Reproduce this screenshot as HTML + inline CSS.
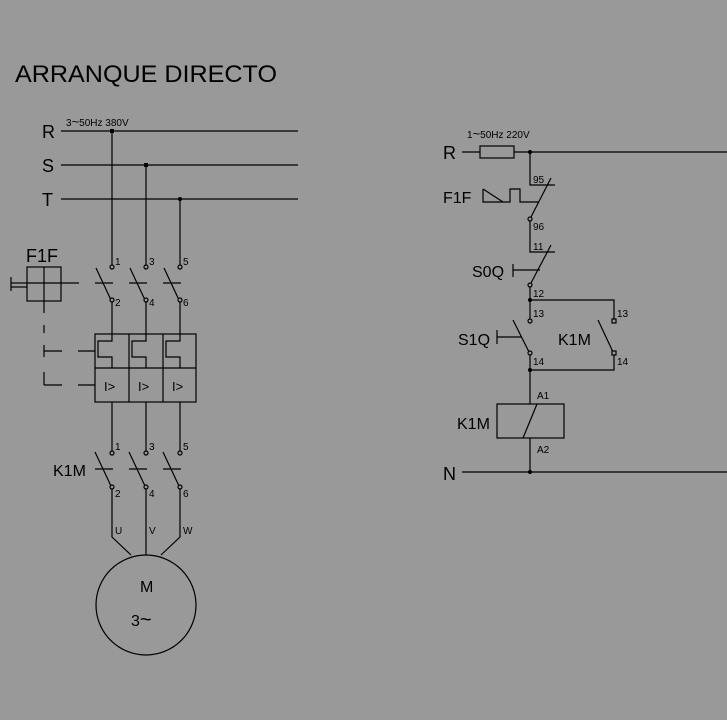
<!DOCTYPE html>
<html><head><meta charset="utf-8"><style>
html,body{margin:0;padding:0;background:#999;}
svg{display:block}
text{font-family:"Liberation Sans",sans-serif;fill:#000}
.t{font-size:18px}
.s{font-size:10px}
</style></head><body>
<svg width="727" height="720" viewBox="0 0 727 720" xmlns="http://www.w3.org/2000/svg">
<rect width="727" height="720" fill="#999"/>
<g stroke="#000" stroke-width="1.2" fill="none">
<line x1="61" y1="131" x2="298" y2="131"/>
<line x1="61" y1="165" x2="298" y2="165"/>
<line x1="61" y1="199" x2="298" y2="199"/>
<line x1="112" y1="131" x2="112" y2="266"/>
<line x1="146" y1="165" x2="146" y2="266"/>
<line x1="180" y1="199" x2="180" y2="266"/>
<g id="q">
<line x1="96" y1="268" x2="111" y2="300"/>
<line x1="95" y1="283" x2="113" y2="283"/>
</g>
<use href="#q" x="34"/><use href="#q" x="68"/>
<line x1="112" y1="302" x2="112" y2="334"/>
<line x1="146" y1="302" x2="146" y2="334"/>
<line x1="180" y1="302" x2="180" y2="334"/>
<rect x="95" y="334" width="101" height="68"/>
<line x1="95" y1="368" x2="196" y2="368"/>
<line x1="129" y1="334" x2="129" y2="402"/>
<line x1="163" y1="334" x2="163" y2="402"/>
<polyline points="112,334 112,341 98,341 98,357 112,357 112,368"/>
<polyline points="146,334 146,341 132,341 132,357 146,357 146,368"/>
<polyline points="180,334 180,341 166,341 166,357 180,357 180,368"/>
<rect x="27" y="267" width="34" height="34"/>
<line x1="44" y1="267" x2="44" y2="313"/>
<line x1="27" y1="283" x2="79" y2="283"/>
<line x1="11" y1="283" x2="27" y2="283"/>
<line x1="11" y1="287" x2="27" y2="287"/>
<line x1="11" y1="277" x2="11" y2="291"/>
<line x1="44" y1="325" x2="44" y2="333"/>
<line x1="44" y1="345" x2="44" y2="357"/>
<line x1="44" y1="351" x2="62" y2="351"/>
<line x1="44" y1="372" x2="44" y2="385"/>
<line x1="44" y1="385" x2="62" y2="385"/>
<line x1="78" y1="351" x2="95" y2="351"/>
<line x1="78" y1="385" x2="95" y2="385"/>
<line x1="112" y1="402" x2="112" y2="451"/>
<line x1="146" y1="402" x2="146" y2="451"/>
<line x1="180" y1="402" x2="180" y2="451"/>
<g id="k">
<line x1="95" y1="452" x2="111" y2="486"/>
<line x1="95" y1="469" x2="113" y2="469"/>
</g>
<use href="#k" x="34"/><use href="#k" x="68"/>
<polyline points="112,489 112,537 131,555"/>
<line x1="146" y1="489" x2="146" y2="555"/>
<polyline points="180,489 180,537 161,555"/>
<circle cx="146" cy="605" r="50"/>
<g fill="#999">
<circle cx="112" cy="267" r="2"/><circle cx="146" cy="267" r="2"/><circle cx="180" cy="267" r="2"/>
<circle cx="112" cy="300" r="2"/><circle cx="146" cy="300" r="2"/><circle cx="180" cy="300" r="2"/>
<circle cx="112" cy="453" r="2"/><circle cx="146" cy="453" r="2"/><circle cx="180" cy="453" r="2"/>
<circle cx="112" cy="487" r="2"/><circle cx="146" cy="487" r="2"/><circle cx="180" cy="487" r="2"/>
</g>
<line x1="462" y1="152" x2="480" y2="152"/>
<rect x="480" y="146" width="34" height="12"/>
<line x1="514" y1="152" x2="727" y2="152"/>
<polyline points="530,152 530,185 555,185"/>
<line x1="551" y1="178" x2="531" y2="217"/>
<polyline points="483,189 483,202 510,202 510,189 520,189 520,202 539,202"/>
<line x1="483" y1="189" x2="503" y2="202"/>
<polyline points="530,221 530,252 555,252"/>
<line x1="551" y1="245" x2="531" y2="283"/>
<line x1="513" y1="264" x2="513" y2="277"/>
<line x1="513" y1="270" x2="540" y2="270"/>
<line x1="530" y1="287" x2="530" y2="319"/>
<polyline points="530,300 614,300 614,319"/>
<line x1="513" y1="320" x2="529" y2="352"/>
<line x1="497" y1="330" x2="497" y2="344"/>
<line x1="497" y1="337" x2="522" y2="337"/>
<line x1="598" y1="320" x2="613" y2="352"/>
<polyline points="530,355 530,404"/>
<polyline points="614,355 614,370 530,370"/>
<rect x="497" y="404" width="67" height="34"/>
<line x1="537" y1="404" x2="523" y2="438"/>
<line x1="530" y1="438" x2="530" y2="472"/>
<line x1="462" y1="472" x2="727" y2="472"/>
<g fill="#999">
<circle cx="530" cy="219" r="2"/><circle cx="530" cy="285" r="2"/>
<circle cx="530" cy="321" r="2"/><circle cx="530" cy="353" r="2"/>
<rect x="612" y="319" width="4" height="4"/><rect x="612" y="351" width="4" height="4"/>
</g>
</g>
<g fill="#000">
<rect x="110" y="129" width="4" height="4"/>
<rect x="144" y="163" width="4" height="4"/>
<circle cx="180" cy="199" r="2"/>
<circle cx="530" cy="152" r="2"/>
<circle cx="530" cy="300" r="2"/>
<circle cx="530" cy="370" r="2"/>
<circle cx="530" cy="472" r="2"/>
</g>
<text x="15" y="82" style="font-size:24px" textLength="262" lengthAdjust="spacingAndGlyphs">ARRANQUE  DIRECTO</text>
<text x="66" y="126" class="s">3<tspan style="font-size:13px">~</tspan>50Hz 380V</text>
<text x="42" y="138" class="t">R</text>
<text x="42" y="172" class="t">S</text>
<text x="42" y="206" class="t">T</text>
<text x="26" y="262" class="t">F1F</text>
<g class="s">
<text x="115" y="265">1</text><text x="149" y="265">3</text><text x="183" y="265">5</text>
<text x="115" y="306">2</text><text x="149" y="306">4</text><text x="183" y="306">6</text>
<text x="115" y="450">1</text><text x="149" y="450">3</text><text x="183" y="450">5</text>
<text x="115" y="497">2</text><text x="149" y="497">4</text><text x="183" y="497">6</text>
<text x="115" y="534">U</text><text x="149" y="534">V</text><text x="183" y="534">W</text>
</g>
<g style="font-size:13px">
<text x="104" y="391">I&gt;</text><text x="138" y="391">I&gt;</text><text x="172" y="391">I&gt;</text>
</g>
<text x="53" y="476" style="font-size:16px">K1M</text>
<text x="140" y="592" style="font-size:16px">M</text>
<text x="131" y="626" style="font-size:16px">3<tspan style="font-size:20px">~</tspan></text>
<text x="467" y="138" class="s">1<tspan style="font-size:13px">~</tspan>50Hz 220V</text>
<text x="443" y="159" class="t">R</text>
<text x="443" y="203" style="font-size:16px">F1F</text>
<text x="533" y="183" class="s">95</text>
<text x="533" y="230" class="s">96</text>
<text x="533" y="250" class="s">11</text>
<text x="472" y="277" style="font-size:16px">S0Q</text>
<text x="533" y="297" class="s">12</text>
<text x="533" y="317" class="s">13</text>
<text x="617" y="317" class="s">13</text>
<text x="458" y="345" style="font-size:16px">S1Q</text>
<text x="558" y="345" style="font-size:16px">K1M</text>
<text x="533" y="365" class="s">14</text>
<text x="617" y="365" class="s">14</text>
<text x="537" y="399" class="s">A1</text>
<text x="457" y="429" style="font-size:16px">K1M</text>
<text x="537" y="453" class="s">A2</text>
<text x="443" y="480" class="t">N</text>
</svg>
</body></html>
